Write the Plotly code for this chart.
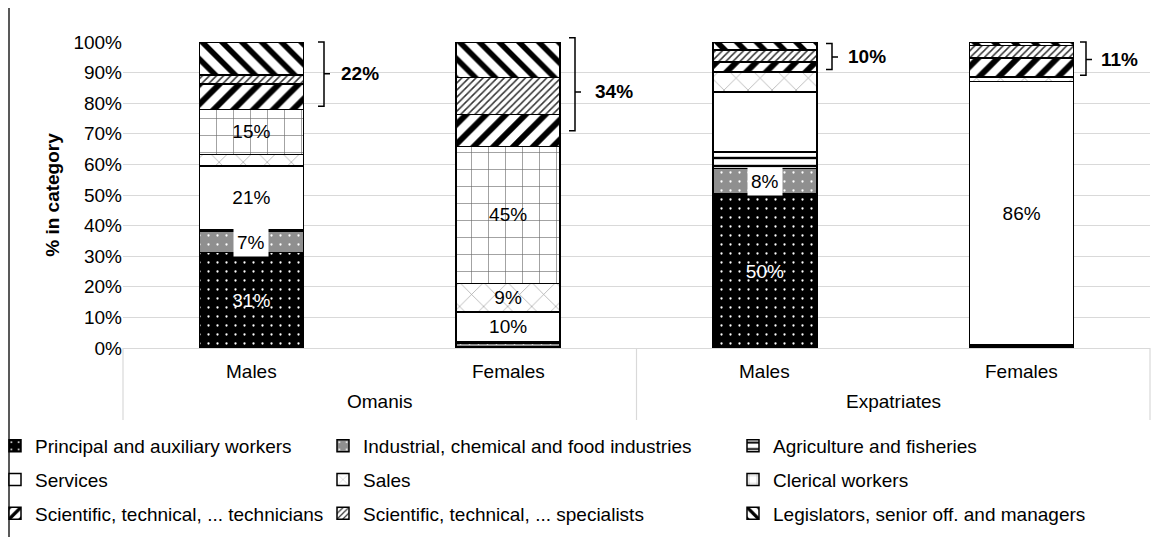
import plotly.graph_objects as go

# ---------------- data ----------------
groups = ["Omanis", "Omanis", "Expatriates", "Expatriates"]
sexes = ["Males", "Females", "Males", "Females"]

series_names = [
    "Principal and auxiliary workers",
    "Industrial, chemical and food industries",
    "Agriculture and fisheries",
    "Services",
    "Sales",
    "Clerical workers",
    "Scientific, technical, ... technicians",
    "Scientific, technical, ... specialists",
    "Legislators, senior off. and managers",
]

principal = [31.2, 0.5, 50.3, 0.3]
industrial = [6.8, 1.2, 8.3, 0.3]
agriculture = [0.8, 0.5, 5.4, 0.4]
services = [20.6, 9.6, 19.7, 86.1]
sales = [3.8, 9.3, 6.5, 1.5]
clerical = [14.8, 44.8, 0.2, 0.2]
technicians = [8.2, 10.4, 3.1, 6.0]
specialists = [3.0, 12.1, 3.9, 4.1]
legislators = [10.8, 11.6, 2.6, 1.1]

series_values = [principal, industrial, agriculture, services, sales,
                 clerical, technicians, specialists, legislators]

# which bar segments carry a value label (index of the bar)
labelled_bars = {0: [0, 2], 3: [0, 1, 3], 4: [1], 5: [0, 1]}
boxed_label_bars = {1: [0, 2]}  # labels drawn on a white box

# ---------------- layout constants ----------------
W, H = 1163, 537
OX, OY = 8, 8            # page body margin of the html page
ML, MR, MT, MB = 115, 21, 34, 197
PW = W - ML - MR
PH = H - MT - MB
FONT = "Liberation Sans, Arial, sans-serif"
FS = 19
GRID = "#d9d9d9"


def px_x(sx):
    """screen x pixel -> paper x"""
    return (sx - OX - ML) / PW


def px_y(sy):
    """screen y pixel -> paper y"""
    return (H - MB - (sy - OY)) / PH


def pat(shape, fg, bg, size, sol):
    return dict(shape=shape, fgcolor=fg, bgcolor=bg, size=size, solidity=sol, fgopacity=1)


styles = [
    dict(color="black", pattern=pat(".", "white", "black", 9, 0.05)),
    dict(color="#8f8f8f", pattern=pat(".", "white", "#8f8f8f", 9, 0.05)),
    dict(color="white", pattern=pat("-", "black", "white", 8, 0.3)),
    dict(color="white", pattern=dict(shape="")),
    dict(color="white", pattern=pat("x", "#a0a0a0", "white", 17, 0.08)),
    dict(color="white", pattern=pat("+", "#666666", "white", 17, 0.07)),
    dict(color="white", pattern=pat("/", "black", "white", 14, 0.42)),
    dict(color="white", pattern=pat("/", "#333333", "white", 5, 0.3)),
    dict(color="white", pattern=pat("\\", "black", "white", 14, 0.4)),
]

text_colors = ["white", "black", "black", "black", "black", "black", "black", "black", "black"]
legend_ids = ["legend", "legend2", "legend3"]

fig = go.Figure()
for i, (name, vals) in enumerate(zip(series_names, series_values)):
    st = styles[i]
    texts = ["" for _ in vals]
    for b in labelled_bars.get(i, []):
        texts[b] = f"{vals[b]:.0f}%"
    fig.add_trace(go.Bar(
        x=[groups, sexes], y=vals, name=name,
        marker=dict(color=st["color"], line=dict(color="black", width=1.5), pattern=st["pattern"]),
        text=texts, textposition="inside", insidetextanchor="middle", textangle=0,
        constraintext="none",
        textfont=dict(color=text_colors[i], size=FS, family=FONT),
        legend=legend_ids[i % 3], legendgroup=name,
        hovertemplate="%{x}: %{y:.1f}%<extra>" + name + "</extra>",
    ))

n_bars = len(groups)

# boxed labels (white background)
for si, bars in boxed_label_bars.items():
    for b in bars:
        base = sum(series_values[k][b] for k in range(si))
        v = series_values[si][b]
        fig.add_annotation(x=(b + 0.5) / n_bars, xref="paper", xanchor="center",
                           y=base + v / 2, yref="y", yanchor="middle",
                           text=f"{v:.0f}%", showarrow=False, bgcolor="white", borderpad=3,
                           font=dict(size=FS, color="black", family=FONT))

# two-level category labels (table-like, as in the original)
row1_y, row2_y, table_bottom = 371, 401, 420
for b, s in enumerate(sexes):
    fig.add_annotation(x=(b + 0.5) / n_bars, xref="paper", xanchor="center",
                       y=px_y(row1_y), yref="paper", yanchor="middle",
                       text=s, showarrow=False,
                       font=dict(size=FS, color="black", family=FONT))
seen = []
for g in groups:
    if g not in seen:
        seen.append(g)
edges = [0.0]
for g in seen:
    idx = [b for b, gg in enumerate(groups) if gg == g]
    xc = (min(idx) + max(idx) + 1) / 2 / n_bars
    fig.add_annotation(x=xc, xref="paper", xanchor="center",
                       y=px_y(row2_y), yref="paper", yanchor="middle",
                       text=g, showarrow=False,
                       font=dict(size=FS, color="black", family=FONT))
    edges.append((max(idx) + 1) / n_bars)
for e in edges:
    fig.add_shape(type="line", xref="paper", yref="paper", x0=e, x1=e, y0=0,
                  y1=px_y(table_bottom), line=dict(color=GRID, width=1.2))

# brackets over the top three categories (screen px for x, % for y)
brackets = [
    dict(xv=324, top=100.0, bot=79.0, mid=89.6, lx=339),
    dict(xv=575, top=101.4, bot=71.0, mid=83.7, lx=593),
    dict(xv=832, top=99.5, bot=91.0, mid=95.1, lx=846),
    dict(xv=1086, top=100.0, bot=89.1, mid=94.3, lx=1099),
]
for b, br in enumerate(brackets):
    x0 = px_x(br["xv"] - 6)
    xv = px_x(br["xv"])
    x1 = px_x(br["xv"] + 6)
    t, bt, m = br["top"] / 100, br["bot"] / 100, br["mid"] / 100
    fig.add_shape(type="path", xref="paper", yref="paper",
                  path=f"M{x0},{t} L{xv},{t} L{xv},{bt} L{x0},{bt} M{xv},{m} L{x1},{m}",
                  line=dict(color="black", width=1.5))
    share = technicians[b] + specialists[b] + legislators[b]
    fig.add_annotation(x=px_x(br["lx"]), xref="paper", y=m, yref="paper", xanchor="left",
                       yanchor="middle", text=f"<b>{share:.0f}%</b>", showarrow=False,
                       font=dict(size=FS, color="black", family=FONT))

# chart-area left border
fig.add_shape(type="line", xref="paper", yref="paper", x0=px_x(9), x1=px_x(9),
              y0=px_y(OY + H), y1=px_y(0), line=dict(color="#222222", width=1.5))

legend_common = dict(orientation="v", xanchor="left", yanchor="top", traceorder="grouped",
                     tracegroupgap=6, bgcolor="rgba(0,0,0,0)",
                     font=dict(size=FS, color="black", family=FONT))
legend_x_screen = [-5, 323, 733]
legend_top_screen = 427

fig.update_layout(
    width=W, height=H,
    margin=dict(l=ML, r=MR, t=MT, b=MB, autoexpand=False),
    paper_bgcolor="white", plot_bgcolor="white",
    barmode="stack", bargap=0.595,
    font=dict(family=FONT, size=FS, color="black"),
    showlegend=True,
    legend=dict(legend_common, x=px_x(legend_x_screen[0]), y=px_y(legend_top_screen)),
    legend2=dict(legend_common, x=px_x(legend_x_screen[1]), y=px_y(legend_top_screen)),
    legend3=dict(legend_common, x=px_x(legend_x_screen[2]), y=px_y(legend_top_screen)),
    xaxis=dict(type="multicategory", showdividers=False, showticklabels=False,
               showline=True, linecolor=GRID, linewidth=1, showgrid=False, ticks=""),
    yaxis=dict(range=[0, 100], dtick=10, ticksuffix="%", showgrid=True, gridcolor=GRID,
               gridwidth=1, zeroline=False, showline=False, ticks="",
               tickfont=dict(size=FS, color="black", family=FONT),
               title=dict(text="<b>% in category</b>", standoff=8,
                          font=dict(size=FS, color="black", family=FONT))),
)

fig.write_html("out.html")
